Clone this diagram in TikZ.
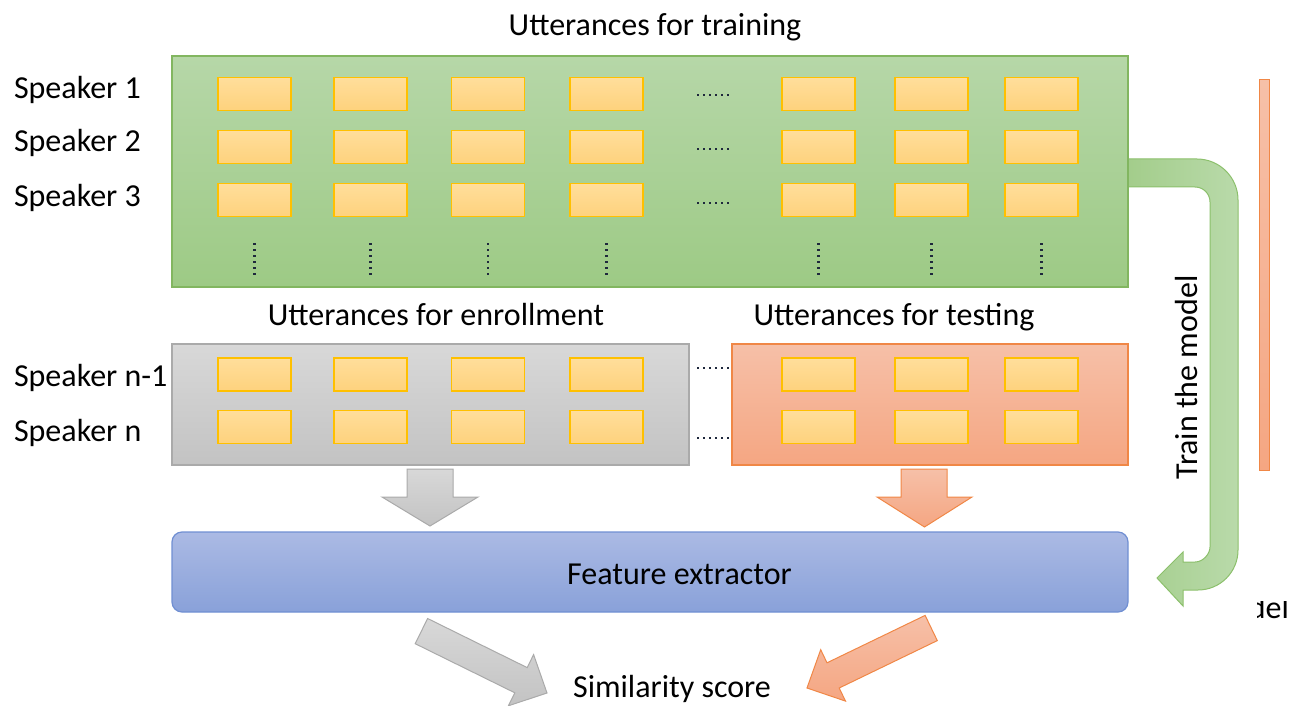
\documentclass[tikz,border=0pt]{standalone}
\usepackage{fontspec}
\setmainfont{Carlito}
\definecolor{gTop}{RGB}{182,215,168}
\definecolor{gBot}{RGB}{157,202,133}
\definecolor{gLine}{RGB}{130,182,96}
\definecolor{yTop}{RGB}{255,222,155}
\definecolor{yBot}{RGB}{254,210,125}
\definecolor{yLine}{RGB}{255,192,0}
\definecolor{grTop}{RGB}{216,216,216}
\definecolor{grBot}{RGB}{195,195,195}
\definecolor{grLine}{RGB}{170,170,170}
\definecolor{oTop}{RGB}{246,192,168}
\definecolor{oBot}{RGB}{245,166,130}
\definecolor{oLine}{RGB}{240,135,70}
\definecolor{bTop}{RGB}{171,186,228}
\definecolor{bBot}{RGB}{137,161,217}
\definecolor{bLine}{RGB}{112,143,210}
\definecolor{uLeft}{RGB}{163,205,139}
\definecolor{uRight}{RGB}{185,218,170}
\definecolor{uLine}{RGB}{140,192,108}
\definecolor{dotc}{RGB}{30,40,60}
\begin{document}
\begin{tikzpicture}[x=1pt,y=-1pt,
  txt/.style={font=\fontsize{32}{38}\selectfont, text=black, inner sep=0pt, outer sep=0pt},
  panel/.style={line width=1.2pt, inner sep=0pt, outer sep=0pt},
  utt/.style={draw=yLine, line width=1.4pt, top color=yTop, bottom color=yBot,
              minimum width=73pt, minimum height=33pt, inner sep=0pt, outer sep=0pt},
  dotline/.style={draw=dotc, line width=2.2pt, dash pattern=on 2.2pt off 3.8pt},
  grayblock/.style={draw=grLine, line width=1pt, top color=grTop, bottom color=grBot},
  orangeblock/.style={draw=oLine, line width=1pt, top color=oTop, bottom color=oBot}]
\useasboundingbox (0,0) rectangle (1291,706);

% training arrow (U-turn from the training panel down to the extractor)
\path[draw=uLine, line width=1pt, left color=uLeft, right color=uRight]
  (1128,159) -- (1197,159) .. controls (1219.6,159) and (1238,177.4) .. (1238,200)
  -- (1238,550) .. controls (1238,572.1) and (1220.1,590) .. (1198,590)
  -- (1183,590) -- (1183,606) -- (1157,578) -- (1183,552) -- (1183,562)
  -- (1195,562) .. controls (1203.3,562) and (1210,553.7) .. (1210,547)
  -- (1210,202) .. controls (1210,193.7) and (1203.3,187) .. (1195,187)
  -- (1128,187) -- cycle;

% panels
\node[panel, draw=gLine, top color=gTop, bottom color=gBot,
      minimum width=956pt, minimum height=231pt] (train) at (650,171.5) {};
\node[panel, draw=grLine, top color=grTop, bottom color=grBot,
      minimum width=517pt, minimum height=121pt] (enroll) at (430.5,404.5) {};
\node[panel, draw=oLine, top color=oTop, bottom color=oBot,
      minimum width=396pt, minimum height=121pt] (test) at (930,404.5) {};
\node[panel, draw=bLine, top color=bTop, bottom color=bBot, rounded corners=10pt,
      minimum width=956pt, minimum height=80pt] (feat) at (650,572) {};
\node[txt, anchor=base] (featlbl) at (679.5,584) {Feature extractor};
\node[panel, draw=oLine, line width=1pt, top color=oTop, bottom color=oBot,
      minimum width=10pt, minimum height=390pt] (bar) at (1264,275) {};

% utterance cells
\foreach \c/\x in {1/254.5,2/370.5,3/488,4/606.5,5/818.5,6/931.5,7/1041.5}{
  \foreach \r/\y in {1/94,2/147,3/200}{
    \node[utt] (tr-\r-\c) at (\x,\y) {};
  }
  \draw[dotline] (\x,243) -- (\x,275);
}
\foreach \c/\x in {1/254.5,2/370.5,3/488,4/606.5}{
  \foreach \r/\y in {1/374.5,2/427}{
    \node[utt] (en-\r-\c) at (\x,\y) {};
  }
}
\foreach \c/\x in {5/818.5,6/931.5,7/1041.5}{
  \foreach \r/\y in {1/374.5,2/427}{
    \node[utt] (te-\r-\c) at (\x,\y) {};
  }
}
\foreach \y in {95,149,203,368,438}{
  \draw[dotline] (697,\y) -- (729,\y);
}

% labels
\node[txt, anchor=base] (ttrain) at (655,36) {Utterances for training};
\node[txt, anchor=base] (tenroll) at (436,325) {Utterances for enrollment};
\node[txt, anchor=base] (ttest) at (894,325) {Utterances for testing};
\node[txt, anchor=base west] (s1) at (14,99) {Speaker 1};
\node[txt, anchor=base west] (s2) at (14,152) {Speaker 2};
\node[txt, anchor=base west] (s3) at (14,207) {Speaker 3};
\node[txt, anchor=base west] (sn1) at (14,386) {Speaker n-1};
\node[txt, anchor=base west] (sn) at (14,441) {Speaker n};
\node[txt, anchor=base] (sim) at (672,697) {Similarity score};
\node[txt, rotate=90, anchor=base] (tmodel) at (1197,377.5) {Train the model};
\begin{scope}
  \clip (1257,601) rectangle (1291,706);
  \node[txt, anchor=base east] (mdl) at (1289,618) {model};
\end{scope}

% block arrows into the extractor
\path[grayblock] (407,469) -- (453,469) -- (453,497) -- (478,497) -- (430,526)
  -- (382,497) -- (407,497) -- cycle;
\path[orangeblock] (901,469) -- (947,469) -- (947,497) -- (972,497) -- (924.5,527)
  -- (877,497) -- (901,497) -- cycle;

% block arrows into the score
\path[grayblock] (427.6,618.5) -- (527.2,667.6) -- (533.6,654.6) -- (547,693)
  -- (508.4,705.8) -- (514.8,692.8) -- (415.2,643.7) -- cycle;
\path[orangeblock] (925.1,615.4) -- (827,662.8) -- (820.7,649.7) -- (807,688)
  -- (845.5,701.1) -- (839.2,688) -- (937.3,640.6) -- cycle;
\end{tikzpicture}
\end{document}
